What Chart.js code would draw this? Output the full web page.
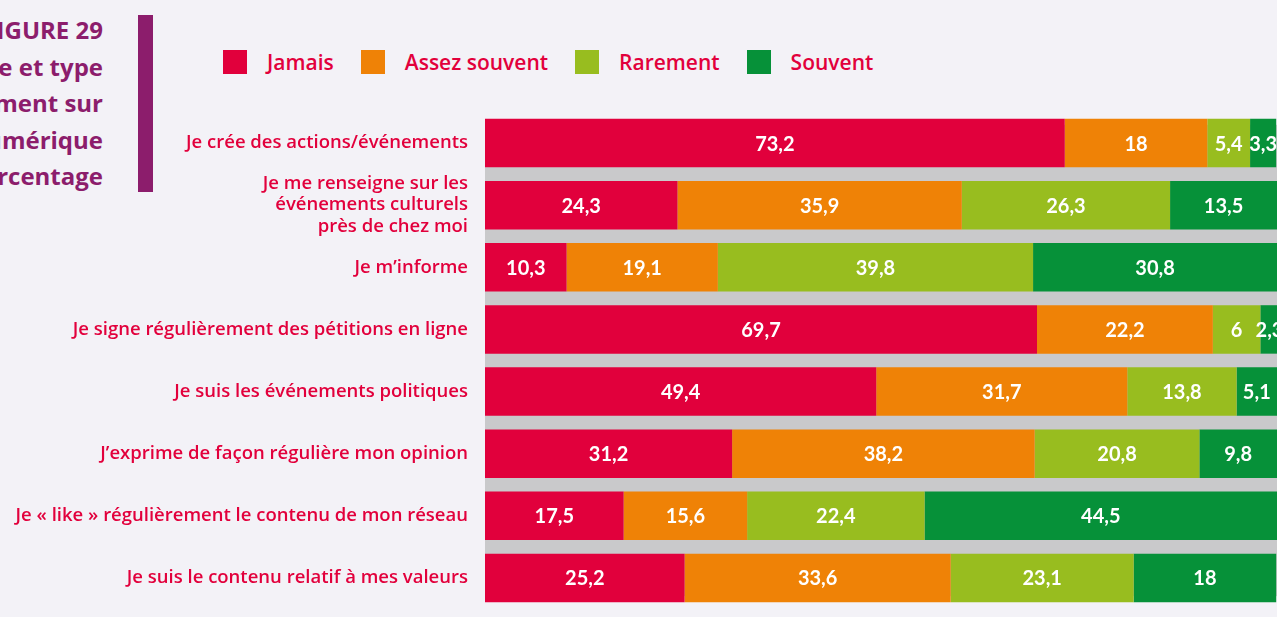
<!DOCTYPE html>
<html lang="fr">
<head>
<meta charset="utf-8">
<title>Figure 29</title>
<script src="https://cdn.jsdelivr.net/npm/chart.js@4.4.1/dist/chart.umd.min.js"></script>
<style>
  html,body{margin:0;padding:0;background:#f3f2f7;}
  #wrap{position:relative;width:1277px;height:617px;overflow:hidden;font-family:"Open Sans",Lato,sans-serif;}
  #title{position:absolute;right:1174px;top:12px;text-align:right;color:#8c1d6c;font-weight:700;font-size:24px;line-height:36.5px;white-space:nowrap;}
  #vbar{position:absolute;left:138px;top:15px;width:15px;height:177px;background:#8c1d6c;}
  #legend{position:absolute;left:223px;top:50px;display:flex;align-items:center;height:24px;}
  #legend .item{display:flex;align-items:center;margin-right:27px;}
  #legend .sw{width:24px;height:24px;margin-right:20px;}
  #legend span{color:#e2003c;font-weight:600;font-size:21px;}
  #chartBox{position:absolute;left:0;top:0;width:1277px;height:617px;}
</style>
</head>
<body>
<div id="wrap">
  <div id="title">FIGURE 29<br>Fréquence et type<br>d’engagement sur<br>le numérique<br>En pourcentage</div>
  <div id="vbar"></div>
  <div id="legend"></div>
  <div id="chartBox"><canvas id="c"></canvas></div>
</div>
<script>
// Données (en %)
const categories = [
  'Je crée des actions/événements',
  ['Je me renseigne sur les', 'événements culturels', 'près de chez moi'],
  'Je m’informe',
  'Je signe régulièrement des pétitions en ligne',
  'Je suis les événements politiques',
  'J’exprime de façon régulière mon opinion',
  'Je « like » régulièrement le contenu de mon réseau',
  'Je suis le contenu relatif à mes valeurs'
];
const seriesNames = ['Jamais', 'Assez souvent', 'Rarement', 'Souvent'];
const jamais       = [73.2, 24.3, 10.3, 69.7, 49.4, 31.2, 17.5, 25.2];
const assezSouvent = [18,   35.9, 19.1, 22.2, 31.7, 38.2, 15.6, 33.6];
const rarement     = [5.4,  26.3, 39.8, 6,    13.8, 20.8, 22.4, 23.1];
const souvent      = [3.3,  13.5, 30.8, 2.3,  5.1,  9.8,  44.5, 18];
const colors = ['#e1003c', '#ef8206', '#98bd1f', '#069139'];

const values = [jamais, assezSouvent, rarement, souvent];
const fmt = v => String(v).replace('.', ',');

// legende HTML
const leg = document.getElementById('legend');
seriesNames.forEach((n, i) => {
  const it = document.createElement('div');
  it.className = 'item';
  it.innerHTML = `<div class="sw" style="background:${colors[i]}"></div><span>${n}</span>`;
  leg.appendChild(it);
});

// bande grise derrière les barres
const backdrop = {
  id: 'backdrop',
  beforeDatasetsDraw(chart){
    const bars = chart.getDatasetMeta(0).data;
    if (!bars.length) return;
    const {ctx, chartArea} = chart;
    const top = bars[0].y - bars[0].height / 2 + 6;
    const bot = bars[bars.length - 1].y + bars[bars.length - 1].height / 2 - 6;
    ctx.save();
    ctx.fillStyle = '#c9c9cb';
    ctx.fillRect(chartArea.left, top, chartArea.right - chartArea.left, bot - top);
    ctx.restore();
  }
};

// étiquettes de valeurs
const valueLabels = {
  id: 'valueLabels',
  afterDatasetsDraw(chart){
    const {ctx} = chart;
    ctx.save();
    ctx.fillStyle = '#fff';
    ctx.font = '700 20px Lato, "Open Sans", sans-serif';
    ctx.textAlign = 'center';
    ctx.textBaseline = 'middle';
    chart.data.datasets.forEach((ds, di) => {
      chart.getDatasetMeta(di).data.forEach((bar, i) => {
        ctx.fillText(fmt(ds.data[i]), (bar.x + bar.base) / 2, bar.y + 1);
      });
    });
    ctx.restore();
  }
};

new Chart(document.getElementById('c'), {
  type: 'bar',
  data: {
    labels: categories,
    datasets: seriesNames.map((n, i) => ({
      label: n,
      data: values[i],
      backgroundColor: colors[i],
      borderWidth: 0,
      barPercentage: 0.78,
      categoryPercentage: 1
    }))
  },
  options: {
    indexAxis: 'y',
    responsive: true,
    maintainAspectRatio: false,
    animation: false,
    layout: {padding: {top: 112, bottom: 8, left: 0, right: 0}},
    plugins: {legend: {display: false}, tooltip: {enabled: false}},
    scales: {
      x: {stacked: true, min: 0, max: 100, display: false},
      y: {
        stacked: true,
        grid: {display: false},
        border: {display: false},
        afterFit: s => { s.width = 485; s.paddingTop = 0; s.paddingBottom = 0; },
        ticks: {
          autoSkip: false,
          color: '#e2003c',
          padding: 9,
          font: {family: '"Open Sans", Lato, sans-serif', weight: '600', size: 18.5, lineHeight: 1.15}
        }
      }
    }
  },
  plugins: [backdrop, valueLabels]
});
</script>
</body>
</html>
